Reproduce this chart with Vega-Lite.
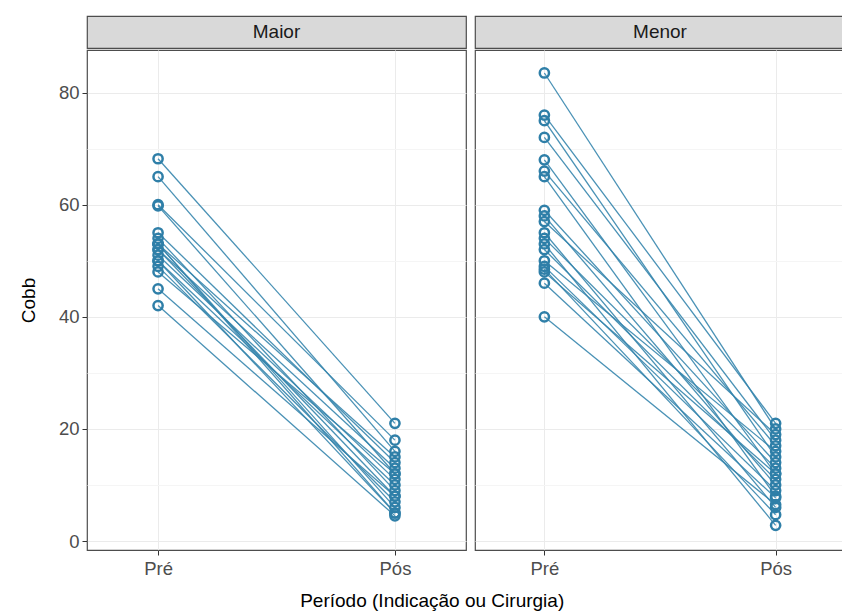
{
  "$schema": "https://vega.github.io/schema/vega-lite/v6.json",
  "padding": {"left": 18, "top": 15, "right": 0, "bottom": 3},
  "background": "white",
  "title": {"text": "Período (Indicação ou Cirurgia)", "orient": "bottom", "anchor": "middle", "fontSize": 19, "fontWeight": "normal", "font": "Liberation Sans", "color": "#000000", "offset": 14},
  "config": {
    "font": "Liberation Sans",
    "view": {"stroke": "#4d4d4d", "strokeWidth": 1.2},
    "concat": {"spacing": 7}
  },
  "datasets": {
    "cobb": [
      {"grupo": "Maior", "id": 1, "periodo": "Pré", "cobb": 68.2}, {"grupo": "Maior", "id": 1, "periodo": "Pós", "cobb": 21},
      {"grupo": "Maior", "id": 2, "periodo": "Pré", "cobb": 65}, {"grupo": "Maior", "id": 2, "periodo": "Pós", "cobb": 16},
      {"grupo": "Maior", "id": 3, "periodo": "Pré", "cobb": 60}, {"grupo": "Maior", "id": 3, "periodo": "Pós", "cobb": 18},
      {"grupo": "Maior", "id": 4, "periodo": "Pré", "cobb": 59.8}, {"grupo": "Maior", "id": 4, "periodo": "Pós", "cobb": 12},
      {"grupo": "Maior", "id": 5, "periodo": "Pré", "cobb": 55}, {"grupo": "Maior", "id": 5, "periodo": "Pós", "cobb": 14},
      {"grupo": "Maior", "id": 6, "periodo": "Pré", "cobb": 54}, {"grupo": "Maior", "id": 6, "periodo": "Pós", "cobb": 9},
      {"grupo": "Maior", "id": 7, "periodo": "Pré", "cobb": 53}, {"grupo": "Maior", "id": 7, "periodo": "Pós", "cobb": 15},
      {"grupo": "Maior", "id": 8, "periodo": "Pré", "cobb": 53}, {"grupo": "Maior", "id": 8, "periodo": "Pós", "cobb": 6},
      {"grupo": "Maior", "id": 9, "periodo": "Pré", "cobb": 52}, {"grupo": "Maior", "id": 9, "periodo": "Pós", "cobb": 13},
      {"grupo": "Maior", "id": 10, "periodo": "Pré", "cobb": 52}, {"grupo": "Maior", "id": 10, "periodo": "Pós", "cobb": 8},
      {"grupo": "Maior", "id": 11, "periodo": "Pré", "cobb": 51}, {"grupo": "Maior", "id": 11, "periodo": "Pós", "cobb": 11},
      {"grupo": "Maior", "id": 12, "periodo": "Pré", "cobb": 50}, {"grupo": "Maior", "id": 12, "periodo": "Pós", "cobb": 5},
      {"grupo": "Maior", "id": 13, "periodo": "Pré", "cobb": 50}, {"grupo": "Maior", "id": 13, "periodo": "Pós", "cobb": 10},
      {"grupo": "Maior", "id": 14, "periodo": "Pré", "cobb": 49}, {"grupo": "Maior", "id": 14, "periodo": "Pós", "cobb": 7},
      {"grupo": "Maior", "id": 15, "periodo": "Pré", "cobb": 48}, {"grupo": "Maior", "id": 15, "periodo": "Pós", "cobb": 12},
      {"grupo": "Maior", "id": 16, "periodo": "Pré", "cobb": 45}, {"grupo": "Maior", "id": 16, "periodo": "Pós", "cobb": 8},
      {"grupo": "Maior", "id": 17, "periodo": "Pré", "cobb": 42}, {"grupo": "Maior", "id": 17, "periodo": "Pós", "cobb": 4.5},
      {"grupo": "Maior", "id": 18, "periodo": "Pré", "cobb": 53}, {"grupo": "Maior", "id": 18, "periodo": "Pós", "cobb": 5},
      {"grupo": "Menor", "id": 21, "periodo": "Pré", "cobb": 83.5}, {"grupo": "Menor", "id": 21, "periodo": "Pós", "cobb": 20},
      {"grupo": "Menor", "id": 22, "periodo": "Pré", "cobb": 76}, {"grupo": "Menor", "id": 22, "periodo": "Pós", "cobb": 21},
      {"grupo": "Menor", "id": 23, "periodo": "Pré", "cobb": 75}, {"grupo": "Menor", "id": 23, "periodo": "Pós", "cobb": 15},
      {"grupo": "Menor", "id": 24, "periodo": "Pré", "cobb": 72}, {"grupo": "Menor", "id": 24, "periodo": "Pós", "cobb": 18},
      {"grupo": "Menor", "id": 25, "periodo": "Pré", "cobb": 68}, {"grupo": "Menor", "id": 25, "periodo": "Pós", "cobb": 12},
      {"grupo": "Menor", "id": 26, "periodo": "Pré", "cobb": 66}, {"grupo": "Menor", "id": 26, "periodo": "Pós", "cobb": 17},
      {"grupo": "Menor", "id": 27, "periodo": "Pré", "cobb": 65}, {"grupo": "Menor", "id": 27, "periodo": "Pós", "cobb": 8},
      {"grupo": "Menor", "id": 28, "periodo": "Pré", "cobb": 59}, {"grupo": "Menor", "id": 28, "periodo": "Pós", "cobb": 14},
      {"grupo": "Menor", "id": 29, "periodo": "Pré", "cobb": 58}, {"grupo": "Menor", "id": 29, "periodo": "Pós", "cobb": 10},
      {"grupo": "Menor", "id": 30, "periodo": "Pré", "cobb": 57}, {"grupo": "Menor", "id": 30, "periodo": "Pós", "cobb": 19},
      {"grupo": "Menor", "id": 31, "periodo": "Pré", "cobb": 55}, {"grupo": "Menor", "id": 31, "periodo": "Pós", "cobb": 6},
      {"grupo": "Menor", "id": 32, "periodo": "Pré", "cobb": 54}, {"grupo": "Menor", "id": 32, "periodo": "Pós", "cobb": 13},
      {"grupo": "Menor", "id": 33, "periodo": "Pré", "cobb": 53}, {"grupo": "Menor", "id": 33, "periodo": "Pós", "cobb": 2.8},
      {"grupo": "Menor", "id": 34, "periodo": "Pré", "cobb": 52}, {"grupo": "Menor", "id": 34, "periodo": "Pós", "cobb": 11},
      {"grupo": "Menor", "id": 35, "periodo": "Pré", "cobb": 50}, {"grupo": "Menor", "id": 35, "periodo": "Pós", "cobb": 16},
      {"grupo": "Menor", "id": 36, "periodo": "Pré", "cobb": 49}, {"grupo": "Menor", "id": 36, "periodo": "Pós", "cobb": 9},
      {"grupo": "Menor", "id": 37, "periodo": "Pré", "cobb": 48.5}, {"grupo": "Menor", "id": 37, "periodo": "Pós", "cobb": 4.7},
      {"grupo": "Menor", "id": 38, "periodo": "Pré", "cobb": 48}, {"grupo": "Menor", "id": 38, "periodo": "Pós", "cobb": 12},
      {"grupo": "Menor", "id": 39, "periodo": "Pré", "cobb": 46}, {"grupo": "Menor", "id": 39, "periodo": "Pós", "cobb": 7.7},
      {"grupo": "Menor", "id": 40, "periodo": "Pré", "cobb": 40}, {"grupo": "Menor", "id": 40, "periodo": "Pós", "cobb": 6.5}
    ]
  },
  "hconcat": [
    {
      "spacing": 0,
      "vconcat": [
        {
          "width": 379, "height": 32,
          "view": {"fill": "#d9d9d9", "stroke": "#4d4d4d", "strokeWidth": 1.2},
          "data": {"values": [{"painel": "Maior"}]},
          "mark": {"type": "text", "fontSize": 19, "color": "#1a1a1a", "baseline": "middle", "align": "center"},
          "encoding": {"text": {"field": "painel"}}
        },
        {
          "width": 379, "height": 500,
          "data": {"name": "cobb"},
          "transform": [{"filter": "datum.grupo == 'Maior'"}],
          "encoding": {
            "x": {"field": "periodo", "type": "ordinal", "sort": ["Pré", "Pós"],
                  "scale": {"type": "point", "padding": 0.3},
                  "axis": {"title": null, "labelAngle": 0, "labelFontSize": 18.5, "labelColor": "#4d4d4d", "domain": false, "tickColor": "#333333", "tickSize": 5, "labelPadding": 4, "grid": true, "gridColor": "#ebebeb"}},
            "y": {"field": "cobb", "type": "quantitative",
                  "scale": {"domain": [-1.6, 87.6], "nice": false, "zero": false},
                  "axis": {"title": "Cobb", "titleFontSize": 19, "titleFontWeight": "normal", "titleColor": "#000000", "titlePadding": 20,
                           "values": [0, 10, 20, 30, 40, 50, 60, 70, 80],
                           "labelExpr": "datum.value % 20 == 0 ? datum.label : ''",
                           "labelFontSize": 18.5, "labelColor": "#4d4d4d", "labelPadding": 3, "domain": false, "tickSize": 5,
                           "tickColor": {"expr": "datum.value % 20 == 0 ? '#333333' : 'transparent'"},
                           "grid": true,
                           "gridColor": {"expr": "datum.value % 20 == 0 ? '#ebebeb' : '#f5f5f5'"}}}
          },
          "layer": [
            {"mark": {"type": "line", "color": "#3585ad", "strokeWidth": 1.3, "opacity": 0.9}, "encoding": {"detail": {"field": "id"}}},
            {"mark": {"type": "point", "shape": "circle", "filled": false, "color": "#2f7fa8", "size": 85, "strokeWidth": 2.5, "opacity": 1}}
          ]
        }
      ]
    },
    {
      "spacing": 0,
      "vconcat": [
        {
          "width": 370, "height": 32,
          "view": {"fill": "#d9d9d9", "stroke": "#4d4d4d", "strokeWidth": 1.2},
          "data": {"values": [{"painel": "Menor"}]},
          "mark": {"type": "text", "fontSize": 19, "color": "#1a1a1a", "baseline": "middle", "align": "center"},
          "encoding": {"text": {"field": "painel"}}
        },
        {
          "width": 370, "height": 500,
          "data": {"name": "cobb"},
          "transform": [{"filter": "datum.grupo == 'Menor'"}],
          "encoding": {
            "x": {"field": "periodo", "type": "ordinal", "sort": ["Pré", "Pós"],
                  "scale": {"type": "point", "padding": 0.3},
                  "axis": {"title": null, "labelAngle": 0, "labelFontSize": 18.5, "labelColor": "#4d4d4d", "domain": false, "tickColor": "#333333", "tickSize": 5, "labelPadding": 4, "grid": true, "gridColor": "#ebebeb"}},
            "y": {"field": "cobb", "type": "quantitative",
                  "scale": {"domain": [-1.6, 87.6], "nice": false, "zero": false},
                  "axis": {"title": null, "labels": false, "ticks": false, "domain": false,
                           "values": [0, 10, 20, 30, 40, 50, 60, 70, 80],
                           "grid": true,
                           "gridColor": {"expr": "datum.value % 20 == 0 ? '#ebebeb' : '#f5f5f5'"}}}
          },
          "layer": [
            {"mark": {"type": "line", "color": "#3585ad", "strokeWidth": 1.3, "opacity": 0.9}, "encoding": {"detail": {"field": "id"}}},
            {"mark": {"type": "point", "shape": "circle", "filled": false, "color": "#2f7fa8", "size": 85, "strokeWidth": 2.5, "opacity": 1}}
          ]
        }
      ]
    }
  ]
}
